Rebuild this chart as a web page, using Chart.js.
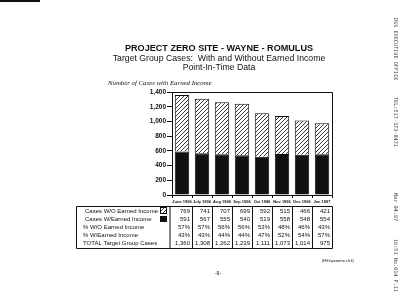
<!DOCTYPE html>
<html>
<head>
<meta charset="utf-8">
<title>Project Zero Site - Wayne - Romulus</title>
<script src="https://cdn.jsdelivr.net/npm/chart.js@4.4.1/dist/chart.umd.min.js"></script>
<style>
    html, body { margin: 0; padding: 0; background: #fff; }
    #wrap { width: 400px; height: 308px; }
</style>
</head>
<body>
<div id="wrap"><canvas id="zeroChart" width="400" height="308"></canvas></div>
<script>
// Data
const months = ['June 1996', 'July 1996', 'Aug 1996', 'Sep 1996', 'Oct 1996', 'Nov 1996', 'Dec 1996', 'Jan 1997'];
const casesWithoutEarned = [769, 741, 707, 699, 592, 515, 466, 421];
const casesWithEarned = [591, 567, 555, 540, 519, 558, 548, 554];
const pctWithout = ['57%', '57%', '56%', '56%', '53%', '48%', '46%', '43%'];
const pctWith = ['43%', '43%', '44%', '44%', '47%', '52%', '54%', '57%'];
const totalCases = ['1,360', '1,308', '1,262', '1,239', '1,111', '1,073', '1,014', '975'];
const tableRows = ['Cases W/O Earned Income', 'Cases W/Earned Income', '% W/O Earned Income', '% W/Earned Income', 'TOTAL Target Group Cases'];

const SANS = '"Liberation Sans", Arial, sans-serif';

// diagonal hatch for the "without earned income" part
function makeHatch() {
    const c = document.createElement('canvas');
    c.width = 4; c.height = 4;
    const g = c.getContext('2d');
    g.fillStyle = '#fff';
    g.fillRect(0, 0, 4, 4);
    g.strokeStyle = '#222';
    g.lineWidth = 0.9;
    g.beginPath();
    g.moveTo(0, 4); g.lineTo(4, 0);
    g.moveTo(-1, 1); g.lineTo(1, -1);
    g.moveTo(3, 5); g.lineTo(5, 3);
    g.stroke();
    return g.createPattern(c, 'repeat');
}

const ctx = document.getElementById('zeroChart').getContext('2d');
const hatch = makeHatch();

// frame around the plot + headings + the data table underneath
const pagePlugin = {
    id: 'pagePlugin',
    afterDraw(chart) {
        const c = chart.ctx;
        const area = chart.chartArea;
        const xs = chart.scales.x;
        c.save();

        // scan smudge top left
        c.fillStyle = '#111';
        c.fillRect(0, 0, 40, 2);

        // plot frame (top and right)
        c.strokeStyle = '#111';
        c.lineWidth = 1;
        c.beginPath();
        c.moveTo(area.left, area.top + 0.5);
        c.lineTo(area.right + 0.5, area.top + 0.5);
        c.lineTo(area.right + 0.5, area.bottom);
        c.stroke();

        // headings
        c.fillStyle = '#111';
        c.textAlign = 'center';
        c.textBaseline = 'middle';
        c.font = 'bold 9.1px ' + SANS;
        c.fillText('PROJECT ZERO SITE - WAYNE - ROMULUS', 219, 48);
        c.font = '8.7px ' + SANS;
        c.fillText('Target Group Cases:  With and Without Earned Income', 219, 59);
        c.fillText('Point-In-Time Data', 219, 68);
        c.textAlign = 'left';
        c.font = 'italic 6.8px "Liberation Serif", "Times New Roman", serif';
        c.fillText('Number of Cases with Earned Income', 108, 83);

        // table
        const top = 206, bottom = 248, left = 76, right = area.right + 0.5;
        const rowY = [211, 219.3, 227.5, 235.6, 243.6];
        c.beginPath();
        c.rect(left + 0.5, top + 0.5, right - left - 0.5, bottom - top);
        c.moveTo(area.left - 2, top);
        c.lineTo(area.left - 2, bottom);
        const step = xs.width / months.length;
        for (let i = 1; i < months.length; i++) {
            const bx = Math.round(xs.left + step * i) + 0.5;
            c.moveTo(bx, top);
            c.lineTo(bx, bottom);
        }
        c.stroke();

        c.font = '6px ' + SANS;
        c.textAlign = 'left';
        tableRows.forEach((label, r) => {
            c.fillText(label, r < 2 ? 85 : 83, rowY[r]);
        });

        // legend swatches
        c.fillStyle = hatch;
        c.fillRect(160, 207.5, 6, 6);
        c.strokeRect(160.5, 207.5, 6, 6);
        c.fillStyle = '#111';
        c.fillRect(160, 216, 7, 6);

        const rows = [casesWithoutEarned, casesWithEarned, pctWithout, pctWith, totalCases];
        c.textAlign = 'right';
        rows.forEach((vals, r) => {
            vals.forEach((v, i) => {
                const colRight = xs.left + step * (i + 1) - 2;
                c.fillText(typeof v === 'number' ? v.toString() : v, colRight, rowY[r]);
            });
        });

        // file reference and page number
        c.font = '4px ' + SANS;
        c.textAlign = 'left';
        c.fillText('(H\\fs\\pzrome.ch3)', 322, 261);
        c.font = '5px ' + SANS;
        c.textAlign = 'center';
        c.fillText('-9-', 218, 274);

        // fax header running down the right edge
        c.translate(395, 0);
        c.rotate(Math.PI / 2);
        c.font = '5.2px "DejaVu Sans Mono", monospace';
        c.fillStyle = '#444';
        c.textAlign = 'left';
        c.fillText('DSS EXECUTIVE OFFICE', 18, 0);
        c.fillText('TEL:517-373-8471', 97, 0);
        c.fillText('Mar 04.97', 193, 0);
        c.fillText('16:51 No.014 P.11', 239, 0);
        c.restore();
    }
};

const zeroChart = new Chart(ctx, {
    type: 'bar',
    data: {
        labels: months,
        datasets: [
            {
                label: 'Cases W/Earned Income',
                data: casesWithEarned,
                backgroundColor: '#111',
                borderColor: '#111',
                borderWidth: 1,
                barPercentage: 0.72,
                categoryPercentage: 1
            },
            {
                label: 'Cases W/O Earned Income',
                data: casesWithoutEarned,
                backgroundColor: hatch,
                borderColor: '#111',
                borderWidth: 1,
                barPercentage: 0.72,
                categoryPercentage: 1
            }
        ]
    },
    options: {
        responsive: false,
        animation: false,
        devicePixelRatio: 1,
        layout: {
            padding: { left: 142, right: 68, top: 92, bottom: 101 }
        },
        scales: {
            x: {
                stacked: true,
                afterFit: s => { s.height = 12; },
                border: { color: '#111', width: 1 },
                grid: { drawOnChartArea: false, tickLength: 3, color: '#111', offset: true },
                ticks: {
                    font: { family: SANS, size: 4, weight: 'bold' },
                    color: '#111',
                    maxRotation: 0,
                    autoSkip: false,
                    padding: 1
                }
            },
            y: {
                stacked: true,
                min: 0,
                max: 1400,
                afterFit: s => { s.width = 30; },
                border: { color: '#111', width: 1 },
                grid: { drawOnChartArea: false, tickLength: 5, color: '#111' },
                ticks: {
                    stepSize: 200,
                    font: { family: SANS, size: 6.5, weight: 'bold' },
                    color: '#111',
                    padding: 1
                }
            }
        },
        plugins: {
            legend: { display: false },
            tooltip: { enabled: false }
        }
    },
    plugins: [pagePlugin]
});
</script>
</body>
</html>
